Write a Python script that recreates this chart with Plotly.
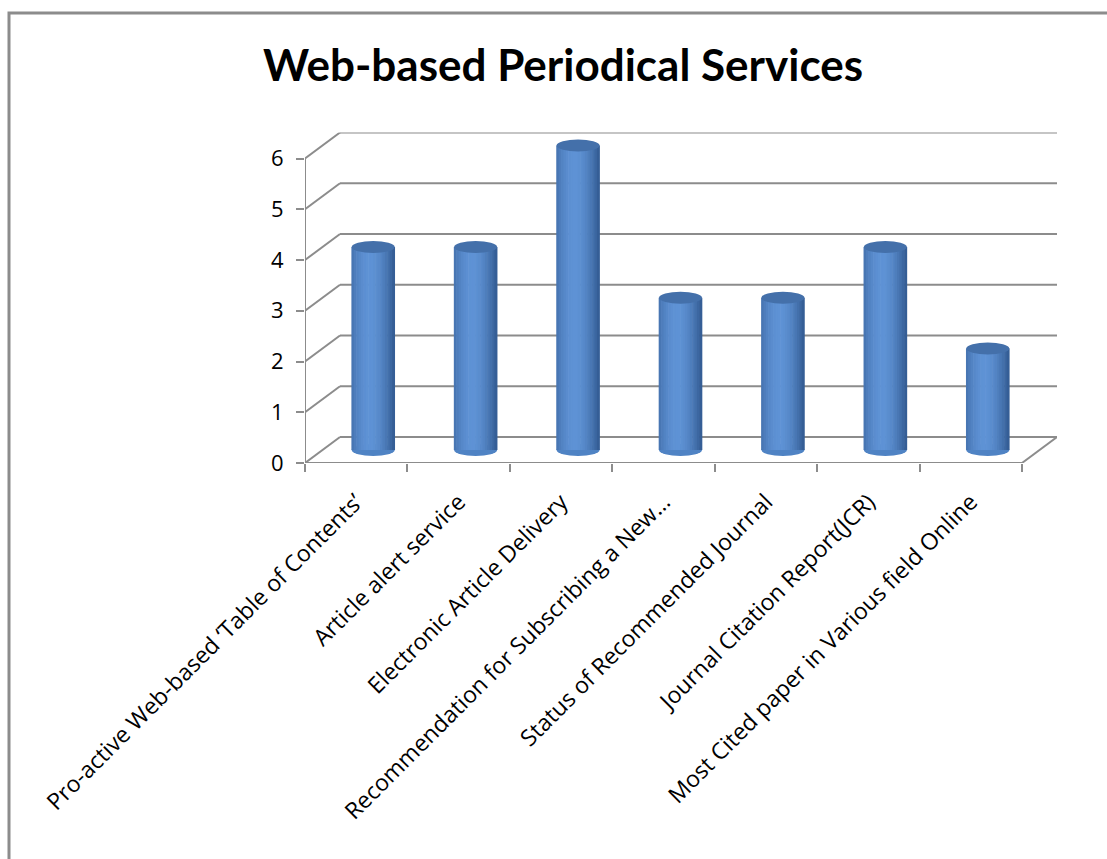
import plotly.graph_objects as go

# ---------------- data ----------------
categories = [
    "Pro-active Web-based \u2018Table of Contents\u2019",
    "Article alert service",
    "Electronic Article Delivery",
    "Recommendation for Subscribing a New\u2026",
    "Status of Recommended Journal",
    "Journal Citation Report(JCR)",
    "Most Cited paper in Various field Online",
]
values = [4, 4, 6, 3, 3, 4, 2]
y_ticks = [0, 1, 2, 3, 4, 5, 6]
title_text = "Web-based Periodical Services"

# ---------------- layout geometry (pixels) ----------------
W, H = 1107, 859
FRONT_L, FRONT_R = 305, 1022      # front plane x extent
FRONT_Y0, FRONT_YTOP = 463, 158.5 # y pixel of value 0 and value 6
DEPTH_X, DEPTH_Y = 35, 26         # back wall offset
BAR_DX, BAR_DY = 17, 13           # bar plane (mid depth) offset
YMAX = 6
n = len(categories)

px_per_cat = (FRONT_R - FRONT_L) / n
px_per_unit = (FRONT_Y0 - FRONT_YTOP) / YMAX
dxu = DEPTH_X / px_per_cat
dyu = DEPTH_Y / px_per_unit

def fx(p):
    return p / W

def fy(p):
    return 1 - p / H

GRID = "#8c8c8c"
LABEL_FONT = "Open Sans, Lato, sans-serif"
xr = [-0.5, n - 0.5 + dxu]
yr = [0, YMAX + dyu]

fig = go.Figure()

# invisible trace establishing the front-plane category axis
fig.add_trace(go.Scatter(x=categories, y=values, mode="none", hoverinfo="skip",
                         showlegend=False, xaxis="x", yaxis="y"))

# cylinder bars drawn as shaded strips on the mid-depth plane
bar_w = 0.42
strips = 18
dark = (50, 90, 145)
light = (95, 147, 214)
u0 = 0.42
for j in range(strips):
    u = (j + 0.5) / strips
    d = abs(u - u0) / max(u0, 1 - u0)
    k = max(0.0, 1 - d ** 1.8)
    col = tuple(int(dark[i] + (light[i] - dark[i]) * k) for i in range(3))
    fig.add_trace(go.Bar(
        x=categories, y=values,
        width=bar_w / strips + 0.006,
        offset=-bar_w / 2 + j * bar_w / strips - 0.003,
        marker=dict(color="rgb(%d,%d,%d)" % col, line=dict(width=0)),
        hoverinfo="skip", showlegend=False, xaxis="x2", yaxis="y2",
    ))

shapes = []
# back wall gridlines and left wall diagonals
for v in y_ticks:
    shapes.append(dict(type="line", xref="x", yref="y", layer="below",
                       x0=-0.5 + dxu, x1=n - 0.5 + dxu, y0=v + dyu, y1=v + dyu,
                       line=dict(color=GRID, width=2)))
    shapes.append(dict(type="line", xref="x", yref="y", layer="below",
                       x0=-0.5, x1=-0.5 + dxu, y0=v, y1=v + dyu,
                       line=dict(color=GRID, width=2)))
# floor front edge, right floor diagonal, front value axis
shapes.append(dict(type="line", xref="x", yref="y", x0=-0.5, x1=n - 0.5, y0=0, y1=0,
                   line=dict(color=GRID, width=2)))
shapes.append(dict(type="line", xref="x", yref="y", x0=n - 0.5, x1=n - 0.5 + dxu,
                   y0=0, y1=dyu, line=dict(color=GRID, width=2)))
shapes.append(dict(type="line", xref="x", yref="y", x0=-0.5, x1=-0.5, y0=0, y1=YMAX,
                   line=dict(color=GRID, width=2)))

# cylinder bottom and top ellipses
eh = 6 / px_per_unit
for i, v in enumerate(values):
    shapes.append(dict(type="circle", xref="x2", yref="y2", layer="below",
                       x0=i - bar_w / 2, x1=i + bar_w / 2, y0=-eh, y1=eh,
                       fillcolor="#4f83c4", line=dict(width=0)))
    shapes.append(dict(type="circle", xref="x2", yref="y2", layer="above",
                       x0=i - bar_w / 2, x1=i + bar_w / 2, y0=v - eh, y1=v + eh,
                       fillcolor="#4470aa", line=dict(width=0)))

# chart-area border
shapes.append(dict(type="rect", xref="paper", yref="paper",
                   x0=fx(9), x1=1.02, y0=-0.02, y1=fy(13),
                   line=dict(color="#8c8c8c", width=3), fillcolor="rgba(0,0,0,0)"))

pad_low = 0.4
fig.update_layout(
    width=W, height=H,
    margin=dict(l=0, r=0, t=0, b=0, autoexpand=False),
    paper_bgcolor="white", plot_bgcolor="rgba(0,0,0,0)",
    barmode="overlay",
    font=dict(family=LABEL_FONT, color="black"),
    title=dict(text="<b>%s</b>" % title_text, x=fx(563), xanchor="center",
               y=fy(66), yanchor="middle",
               font=dict(size=44, family="Lato, Open Sans, sans-serif", color="black")),
    xaxis=dict(domain=[fx(FRONT_L), fx(FRONT_R + DEPTH_X)], range=xr,
               type="category", categoryorder="array", categoryarray=categories,
               tickson="boundaries", ticks="outside", ticklen=8, tickwidth=2,
               tickcolor=GRID, tickangle=-45, ticklabelstandoff=20,
               tickfont=dict(size=23, color="black", family=LABEL_FONT),
               showgrid=False, zeroline=False, showline=False, anchor="y",
               automargin=False, fixedrange=True),
    yaxis=dict(domain=[fy(FRONT_Y0), fy(FRONT_YTOP - DEPTH_Y)], range=yr,
               tickvals=y_ticks, ticks="outside", ticklen=8, tickwidth=2,
               tickcolor=GRID, ticklabelstandoff=8,
               tickfont=dict(size=22, color="black", family=LABEL_FONT),
               showgrid=False, zeroline=False, showline=False, anchor="x",
               automargin=False, fixedrange=True),
    xaxis2=dict(domain=[fx(FRONT_L + BAR_DX), fx(FRONT_R + DEPTH_X + BAR_DX)], range=xr,
                type="category", categoryorder="array", categoryarray=categories,
                visible=False, anchor="y2", automargin=False, fixedrange=True),
    yaxis2=dict(domain=[fy(FRONT_Y0 - BAR_DY + pad_low * px_per_unit),
                        fy(FRONT_YTOP - DEPTH_Y - BAR_DY)],
                range=[-pad_low, YMAX + dyu], visible=False, anchor="x2",
                automargin=False, fixedrange=True),
    shapes=shapes,
    showlegend=False,
)

fig.write_html("out.html")
